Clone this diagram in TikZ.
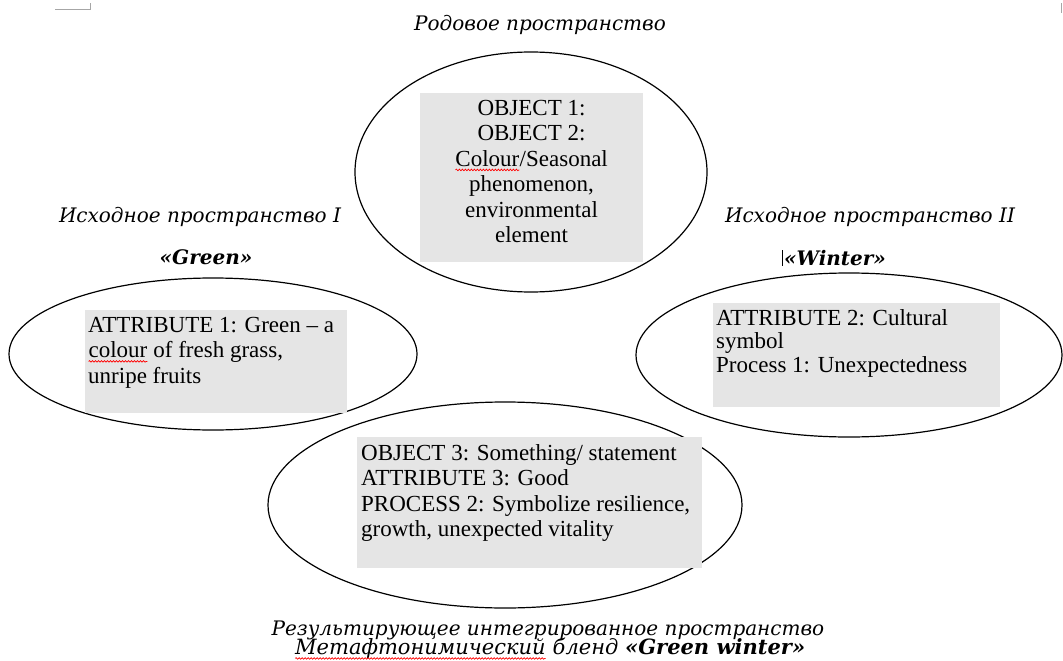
\documentclass[tikz,border=0pt]{standalone}
\usepackage{fontspec}
\setmainfont{Liberation Serif}
\newfontfamily\labelfont{DejaVu Serif}
\usetikzlibrary{decorations.pathmorphing}
\newcommand\spellwave[1]{\tikz[baseline=(sw.base),x=1pt,y=1pt]{\node[inner sep=0pt,outer sep=0pt](sw){#1};\draw[red, line width=0.7pt, decorate, decoration={snake, amplitude=0.8pt, segment length=3pt}] ([yshift=-3.5pt]sw.base west) -- ([yshift=-3.5pt]sw.base east);}}
\tikzset{
  spacering/.style={draw=black, line width=1.2pt},
  graybox/.style={fill=black!10, draw=none},
  boxtext/.style={inner sep=0pt, font=\fontsize{23}{25.5}\selectfont},
  lbl/.style={inner sep=0pt, font=\labelfont\fontsize{20}{22}\selectfont\itshape},
  lblb/.style={inner sep=0pt, font=\labelfont\fontsize{20}{22}\selectfont\bfseries\itshape},
  cornermark/.style={draw=black!35, line width=1pt}
}
\begin{document}
\begin{tikzpicture}[x=1pt,y=-1pt]
\useasboundingbox (0,0) rectangle (1063,661);
% page corner marks
\draw[cornermark] (55,10) -- (90,10) -- (90,3);
\draw[cornermark] (1061,3) -- (1061,13);
% ellipses
\draw[spacering] (531,172) ellipse [x radius=176, y radius=120];
\draw[spacering] (213,354) ellipse [x radius=204, y radius=76];
\draw[spacering] (849,355) ellipse [x radius=213, y radius=82];
\draw[spacering] (505,505) ellipse [x radius=237, y radius=103];
% gray boxes
\fill[graybox] (420,93) rectangle (643,262);
\fill[graybox] (85,310) rectangle (347,413);
\fill[graybox] (713,303) rectangle (1000,407);
\fill[graybox] (357,437) rectangle (702,568);
% box texts
\node[boxtext, align=center, anchor=north] (generic) at (531.5,100)
  {OBJECT 1:\\OBJECT 2:\\\spellwave{Colour}/Seasonal\\phenomenon,\\environmental\\element};
\node[boxtext, align=left, anchor=north west] (input1) at (88,317)
  {ATTRIBUTE 1: Green -- a\\\spellwave{colour} of fresh grass,\\unripe fruits};
\node[boxtext, align=left, anchor=north west, font=\fontsize{23}{23.5}\selectfont] (input2) at (716,309)
  {ATTRIBUTE 2: Cultural\\symbol\\Process 1: Unexpectedness};
\node[boxtext, align=left, anchor=north west] (blend) at (361,444)
  {OBJECT 3: Something/ statement\\ATTRIBUTE 3: Good\\PROCESS 2: Symbolize resilience,\\growth, unexpected vitality};
% labels
\node[lbl] (lgen) at (540,25) {Родовое пространство};
\node[lbl] (lin1) at (200,217) {Исходное пространство I};
\node[lblb] (lgreen) at (206,257) {«Green»};
\node[lbl] (lin2) at (870,217) {Исходное пространство II};
\node[lblb] (lwinter) at (835,258) {«Winter»};
\draw[line width=0.6pt] ([xshift=-2pt]lwinter.north west) -- ([xshift=-2pt]lwinter.south west);
\node[lbl] (lres) at (548,630) {Результирующее интегрированное пространство};
\node[lbl, font=\labelfont\fontsize{21}{22}\selectfont\itshape] (lblend) at (550,649) {\spellwave{Метафтонимический} бленд {\bfseries«Green winter»}};
\end{tikzpicture}
\end{document}
